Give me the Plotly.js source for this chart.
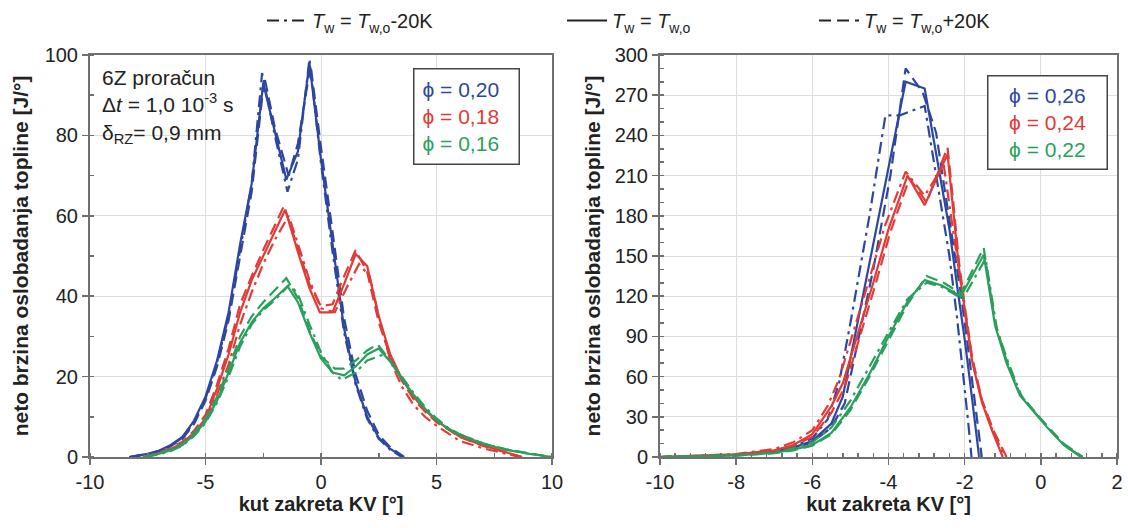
<!DOCTYPE html>
<html>
<head>
<meta charset="utf-8">
<script src="https://cdn.plot.ly/plotly-3.0.1.min.js"></script>
<style>html,body{margin:0;padding:0;background:#fff;}#chart{width:1128px;height:528px;}</style>
</head>
<body>
<div id="chart"></div>
<script>
// ---------- tick labels ----------
const leftXTicks = [-10, -5, 0, 5, 10];
const leftXTickText = ["-10", "-5", "0", "5", "10"];
const leftYTicks = [0, 20, 40, 60, 80, 100];
const rightXTicks = [-10, -8, -6, -4, -2, 0, 2];
const rightXTickText = ["-10", "-8", "-6", "-4", "-2", "0", "2"];
const rightYTicks = [0, 30, 60, 90, 120, 150, 180, 210, 240, 270, 300];

// ---------- categories ----------
const styles = ["Tw-20K", "Tw", "Tw+20K"];
const leftPhi = ["ϕ = 0,20", "ϕ = 0,18", "ϕ = 0,16"];
const rightPhi = ["ϕ = 0,26", "ϕ = 0,24", "ϕ = 0,22"];

// ---------- LEFT PLOT data (kut [°], J/°) ----------
// phi = 0.20 (blue)
const L_b_m_x = [-8.3,-7.5,-7,-6.5,-6,-5.5,-5,-4.5,-4,-3.5,-3,-2.55,-2,-1.45,-1,-0.5,0,0.5,1,1.5,2,2.5,3,3.5];
const L_b_m_y = [0,0.8,1.5,2.8,4.8,8.6,14.5,23.5,35,52,68,95.5,80,66,74,99,73,51,31,18,9.5,4.5,1.8,0];
const L_b_0_x = [-8.3,-7.5,-7,-6.5,-6,-5.5,-5,-4.5,-4,-3.5,-3,-2.5,-2,-1.5,-1,-0.5,0,0.5,1,1.5,2,2.5,3,3.55];
const L_b_0_y = [0,0.8,1.6,3,5,9,15,24,36,53,68,93,81,69,76,98,74,53,32,18.5,10,4.8,2,0];
const L_b_p_x = [-8.2,-7.5,-7,-6.5,-6,-5.5,-5,-4.5,-4,-3.5,-3,-2.45,-2,-1.4,-1,-0.45,0,0.5,1,1.5,2,2.5,3,3.6];
const L_b_p_y = [0,0.7,1.4,2.7,4.5,8.2,14,22.5,34,50.5,66,94.5,82,70,78,97.5,77,56,34.5,20.5,11.5,5.5,2.4,0];
// phi = 0.18 (red)
const L_r_m_x = [-7.6,-7,-6.5,-6,-5.5,-5,-4.5,-4,-3.5,-3,-2.5,-2,-1.4,-1,-0.5,0,0.6,1.1,1.65,2.1,2.5,3,3.5,4,4.5,5,5.5,6,7,8,8.6];
const L_r_m_y = [0,0.9,1.8,3.2,5.5,9,15.5,23,33,41,48,54,60,53,44,37,36,42,48,45,35,24,17.5,13,10,7.8,5.8,4,2.2,0.8,0];
const L_r_0_x = [-7.7,-7,-6.5,-6,-5.5,-5,-4.5,-4,-3.5,-3,-2.5,-2,-1.55,-1,-0.5,-0.05,0.5,1,1.5,2,2.5,3,3.5,4,4.5,5,5.5,6,7,8,8.7];
const L_r_0_y = [0,1,2,3.5,6,9.5,17,25.5,36,44,50,56,61.5,51,42,36,36,43,50.5,47.5,35,25.5,19.5,15,11.7,9,7,5.1,2.9,1.3,0];
const L_r_p_x = [-7.7,-7,-6.5,-6,-5.5,-5,-4.5,-4,-3.5,-3,-2.5,-2,-1.6,-1,-0.5,0,0.5,1,1.5,2,2.5,3,3.5,4,4.5,5,5.5,6,7,8,8.7];
const L_r_p_y = [0,1.1,2.2,3.8,6.5,10.5,18,27,38,45,51.5,57.5,62.5,52,43,37.5,38,45,51.5,46,33.5,25,19,14.5,11.3,8.7,6.8,5,2.8,1.2,0];
// phi = 0.16 (green)
const L_g_m_x = [-7.6,-7,-6.5,-6,-5.5,-5,-4.5,-4,-3.5,-3,-2.5,-2,-1.35,-1,-0.5,0,0.5,0.9,1.5,2,2.7,3,3.5,4,4.5,5,5.5,6,7,8,9,10];
const L_g_m_y = [0,0.7,1.5,2.8,5.2,8.5,13.5,20,27.5,33,36.5,39,43,40.5,33,26,21,19.2,21,24,25.5,24,20,16,12.5,9.6,7.3,5.7,3.4,1.9,0.8,0];
const L_g_0_x = [-7.7,-7,-6.5,-6,-5.5,-5,-4.5,-4,-3.5,-3,-2.5,-2,-1.45,-1,-0.5,0,0.5,1,1.5,2,2.5,3,3.5,4,4.5,5,5.5,6,7,8,9,10];
const L_g_0_y = [0,0.8,1.7,3,5.5,8.8,14,21,28.5,33.5,37,39.5,42.5,38.5,31,24.5,21,20.3,22.5,25.5,27,23.7,19.5,15.5,12,9.2,7,5.5,3.3,1.8,0.8,0];
const L_g_p_x = [-7.7,-7,-6.5,-6,-5.5,-5,-4.5,-4,-3.5,-3,-2.5,-2,-1.5,-1,-0.5,0,0.6,1,1.5,2,2.45,3,3.5,4,4.5,5,5.5,6,7,8,9,10];
const L_g_p_y = [0,0.9,1.9,3.3,6,9.5,15,22,30,35,38.5,41.5,44.5,39.5,31.5,25,22,22,24,26.5,28,24,19.5,15.5,12,9.3,7.1,5.6,3.4,1.9,0.9,0];

// ---------- RIGHT PLOT data ----------
// phi = 0.26 (blue)
const R_b_m_x = [-10,-9,-8,-7,-6.5,-6,-5.6,-5.3,-5,-4.5,-4.08,-3.7,-3.05,-2.7,-2.4,-2.2,-2.05,-1.9,-1.82];
const R_b_m_y = [0,0.5,1.6,4.3,7.5,14,28,55,100,180,255,255,262,200,150,104,66,24,0];
const R_b_0_x = [-10,-9,-8,-7,-6.5,-6,-5.5,-5.2,-4.9,-4.5,-4,-3.55,-3.05,-2.7,-2.4,-2.2,-2,-1.85,-1.72,-1.62];
const R_b_0_y = [0,0.5,1.5,4,7,12,25,45,88,145,215,280,275,220,170,128,88,54,22,0];
const R_b_p_x = [-10,-9,-8,-7,-6.5,-6,-5.5,-5.15,-4.85,-4.4,-3.95,-3.55,-3.1,-2.75,-2.5,-2.3,-2.1,-1.95,-1.8,-1.65,-1.55];
const R_b_p_y = [0,0.4,1.3,3.7,6.5,11,22,40,80,140,210,290,272,242,195,160,122,90,56,22,0];
// phi = 0.24 (red)
const R_r_m_x = [-10,-9,-8,-7,-6.5,-6,-5.6,-5.3,-4.9,-4.5,-4.1,-3.55,-3.05,-2.55,-2.35,-2.15,-2,-1.8,-1.55,-1.27,-0.95];
const R_r_m_y = [0,0.9,2.2,6,11,20,38,58,95,133,172,213,195,218,178,140,108,72,42,20,0];
const R_r_0_x = [-10,-9,-8,-7,-6.5,-6,-5.5,-5.2,-4.8,-4.4,-4,-3.5,-3.05,-2.45,-2.3,-2.15,-2,-1.8,-1.55,-1.27,-1.0];
const R_r_0_y = [0,0.8,2,5,9,17,38,55,92,130,170,210,188,226,184,141,110,71,41,19,0];
const R_r_p_x = [-10,-9,-8,-7,-6.5,-6,-5.5,-5.15,-4.75,-4.35,-3.95,-3.45,-3.0,-2.45,-2.3,-2.15,-2.0,-1.8,-1.55,-1.25,-0.9];
const R_r_p_y = [0,0.7,1.8,4.6,8.5,15,33,52,90,128,168,208,190,231,190,146,113,74,43,20,0];
// phi = 0.22 (green)
const R_g_m_x = [-10,-9,-8,-7,-6.5,-6,-5.5,-5,-4.5,-4,-3.5,-3.0,-2.6,-2.05,-1.45,-1.15,-0.85,-0.5,-0.15,0.25,0.65,1.1];
const R_g_m_y = [0,0.5,1.4,3.5,6.5,11,22,42,68,93,118,130,127,118,148,95,70,45,33,20,8,0];
const R_g_0_x = [-10,-9,-8,-7,-6.5,-6,-5.5,-5,-4.5,-4,-3.5,-3.05,-2.6,-2.1,-1.5,-1.2,-0.9,-0.55,-0.2,0.2,0.6,1.05];
const R_g_0_y = [0,0.4,1.2,3,5.5,9,18,37,62,90,116,132,128,120,151,98,70,46,34,21,9,0];
const R_g_p_x = [-10,-9,-8,-7,-6.5,-6,-5.5,-5,-4.5,-4,-3.5,-3.0,-2.55,-2.1,-1.5,-1.2,-0.9,-0.55,-0.2,0.2,0.6,1.1];
const R_g_p_y = [0,0.4,1.1,2.8,5,8.5,17,35,60,87,114,135,130,122,156,100,72,47,35,22,10,0];

// ---------- styling ----------
const BLUE = '#2d47a0', RED = '#e23a36', GREEN = '#2a9f5c';
const DASHDOT = '12px,5px,3px,5px';
const DASHED = '12px,6px';
const LW = 2.2;
const FONT = 'Liberation Sans, Arial, sans-serif';

function line(x, y, color, dash, xa, ya) {
  return {x: x, y: y, xaxis: xa, yaxis: ya, type: 'scatter', mode: 'lines',
    line: {color: color, width: LW, dash: dash}, showlegend: false, hoverinfo: 'skip'};
}

const traces = [
  line(L_b_m_x, L_b_m_y, BLUE, DASHDOT, 'x', 'y'),
  line(L_b_0_x, L_b_0_y, BLUE, 'solid', 'x', 'y'),
  line(L_b_p_x, L_b_p_y, BLUE, DASHED, 'x', 'y'),
  line(L_r_m_x, L_r_m_y, RED, DASHDOT, 'x', 'y'),
  line(L_r_0_x, L_r_0_y, RED, 'solid', 'x', 'y'),
  line(L_r_p_x, L_r_p_y, RED, DASHED, 'x', 'y'),
  line(L_g_m_x, L_g_m_y, GREEN, DASHDOT, 'x', 'y'),
  line(L_g_0_x, L_g_0_y, GREEN, 'solid', 'x', 'y'),
  line(L_g_p_x, L_g_p_y, GREEN, DASHED, 'x', 'y'),
  line(R_b_m_x, R_b_m_y, BLUE, DASHDOT, 'x2', 'y2'),
  line(R_b_0_x, R_b_0_y, BLUE, 'solid', 'x2', 'y2'),
  line(R_b_p_x, R_b_p_y, BLUE, DASHED, 'x2', 'y2'),
  line(R_r_m_x, R_r_m_y, RED, DASHDOT, 'x2', 'y2'),
  line(R_r_0_x, R_r_0_y, RED, 'solid', 'x2', 'y2'),
  line(R_r_p_x, R_r_p_y, RED, DASHED, 'x2', 'y2'),
  line(R_g_m_x, R_g_m_y, GREEN, DASHDOT, 'x2', 'y2'),
  line(R_g_0_x, R_g_0_y, GREEN, 'solid', 'x2', 'y2'),
  line(R_g_p_x, R_g_p_y, GREEN, DASHED, 'x2', 'y2')
];

// legend entries (line style meaning)
const legendNames = [
  '<i>T</i><sub>w</sub> = <i>T</i><sub>w,o</sub>-20K',
  '<i>T</i><sub>w</sub> = <i>T</i><sub>w,o</sub>',
  '<i>T</i><sub>w</sub> = <i>T</i><sub>w,o</sub>+20K'
];
const legendDash = [DASHDOT, 'solid', DASHED];
const legendIds = ['legend', 'legend2', 'legend3'];
legendNames.forEach(function (nm, i) {
  traces.push({x: [null], y: [null], type: 'scatter', mode: 'lines', name: nm,
    line: {color: '#222', width: 2, dash: legendDash[i]}, showlegend: true,
    legend: legendIds[i], hoverinfo: 'skip'});
});

const axisCommon = {
  showline: true, linecolor: '#707070', linewidth: 2, mirror: true,
  gridcolor: '#dedede', gridwidth: 1, zeroline: false,
  ticks: 'outside', ticklen: 6, tickcolor: '#707070', tickwidth: 1.5,
  tickfont: {family: FONT, size: 20, color: '#222'}
};
const titleFont = {family: FONT, size: 20, color: '#222', weight: 'bold'};
const yTitleFont = {family: FONT, size: 21, color: '#222', weight: 'bold'};

function legendBox(x) {
  return {x: x, y: 0.998, xanchor: 'left', yanchor: 'top', orientation: 'h',
    bgcolor: 'rgba(0,0,0,0)', borderwidth: 0,
    font: {family: FONT, size: 20, color: '#222'}, itemwidth: 40};
}

function phiBox(labels) {
  const cols = [BLUE, RED, GREEN];
  return labels.map(function (t, i) {
    return '<span style="color:' + cols[i] + '">' + t + '</span>';
  }).join('<br>');
}

const layout = {
  width: 1128, height: 528,
  paper_bgcolor: '#fff', plot_bgcolor: '#fff',
  margin: {l: 0, r: 0, t: 0, b: 0},
  font: {family: FONT, color: '#222'},
  xaxis: Object.assign({}, axisCommon, {
    domain: [90 / 1128, 552 / 1128], range: [-10, 10],
    tickmode: 'array', tickvals: leftXTicks, ticktext: leftXTickText,
    minor: {tickmode: 'linear', tick0: 0, dtick: 2.5, ticks: 'inside', ticklen: 4, tickcolor: '#707070', showgrid: false},
    title: {text: 'kut zakreta KV [°]', font: titleFont, standoff: 5},
    anchor: 'y'
  }),
  yaxis: Object.assign({}, axisCommon, {
    domain: [71 / 528, 473 / 528], range: [0, 100],
    tickmode: 'array', tickvals: leftYTicks,
    minor: {tickmode: 'linear', tick0: 0, dtick: 10, ticks: 'inside', ticklen: 4, tickcolor: '#707070', showgrid: false},
    title: {text: 'neto brzina oslobadanja topline [J/°]', font: yTitleFont, standoff: 10},
    anchor: 'x'
  }),
  xaxis2: Object.assign({}, axisCommon, {
    domain: [660 / 1128, 1117 / 1128], range: [-10, 2],
    tickmode: 'array', tickvals: rightXTicks, ticktext: rightXTickText,
    minor: {tickmode: 'linear', tick0: 0, dtick: 0.4, ticks: 'inside', ticklen: 4, tickcolor: '#707070', showgrid: false},
    title: {text: 'kut zakreta KV [°]', font: titleFont, standoff: 5},
    anchor: 'y2'
  }),
  yaxis2: Object.assign({}, axisCommon, {
    domain: [71 / 528, 473 / 528], range: [0, 300],
    tickmode: 'array', tickvals: rightYTicks,
    minor: {tickmode: 'linear', tick0: 0, dtick: 10, ticks: 'inside', ticklen: 4, tickcolor: '#707070', showgrid: false},
    title: {text: 'neto brzina oslobadanja topline [J/°]', font: yTitleFont, standoff: 8},
    anchor: 'x2'
  }),
  legend: legendBox(262 / 1128),
  legend2: legendBox(562 / 1128),
  legend3: legendBox(814 / 1128),
  annotations: [
    {xref: 'paper', yref: 'paper', x: 100 / 1128, y: (528 - 64) / 528, xanchor: 'left', yanchor: 'top',
     align: 'left', showarrow: false,
     text: '6Z proračun<br>Δ<i>t</i> = 1,0 10<sup>-3</sup> s<br>δ<sub>RZ</sub>= 0,9 mm',
     font: {family: FONT, size: 21, color: '#222'}},
    {xref: 'paper', yref: 'paper', x: 413 / 1128, y: (528 - 68) / 528, xanchor: 'left', yanchor: 'top',
     align: 'left', showarrow: false, text: phiBox(leftPhi), width: 88,
     bordercolor: '#444', borderwidth: 1.5, borderpad: 8, bgcolor: '#fff',
     font: {family: FONT, size: 21}},
    {xref: 'paper', yref: 'paper', x: 987 / 1128, y: (528 - 75) / 528, xanchor: 'left', yanchor: 'top',
     align: 'center', showarrow: false, text: phiBox(rightPhi), width: 104,
     bordercolor: '#444', borderwidth: 1.5, borderpad: 7, bgcolor: '#fff',
     font: {family: FONT, size: 21}}
  ]
};

Plotly.newPlot('chart', traces, layout, {displayModeBar: false, staticPlot: true});
</script>
</body>
</html>
